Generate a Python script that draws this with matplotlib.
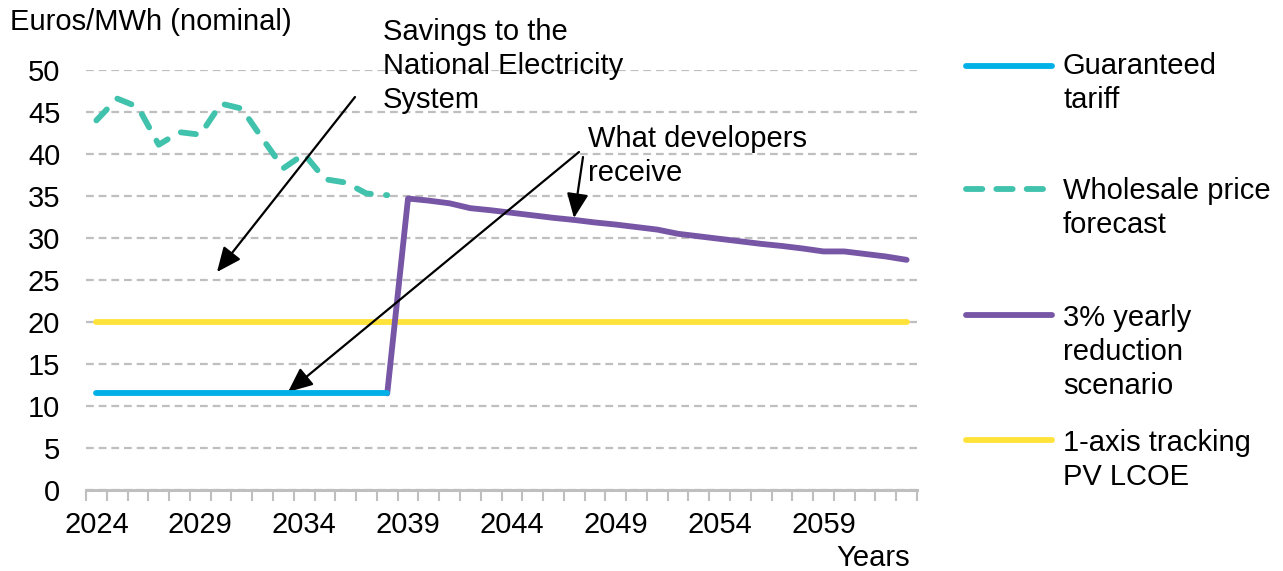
import matplotlib
matplotlib.use("Agg")
import matplotlib.pyplot as plt
from matplotlib.lines import Line2D
import numpy as np

plt.rcParams['font.family'] = ['Liberation Sans', 'DejaVu Sans']

years = list(range(2024, 2064))
guaranteed_years = list(range(2024, 2039))
guaranteed = [11.5] * 15
wholesale_years = list(range(2024, 2039))
wholesale = [44.0, 46.6, 45.6, 41.1, 42.6, 42.3, 46.0, 45.4, 41.8, 38.3, 40.0, 37.0, 36.6, 35.3, 35.1]
reduction_years = list(range(2038, 2064))
reduction = [11.5, 34.7, 34.45, 34.13, 33.55, 33.3, 33.0, 32.7, 32.4, 32.15, 31.85, 31.6, 31.3, 31.0,
             30.5, 30.2, 29.9, 29.6, 29.3, 29.05, 28.75, 28.4, 28.4, 28.1, 27.8, 27.4]
lcoe_years = list(range(2024, 2064))
lcoe = [20.0] * 40

xtick_labels = ['2024', '2029', '2034', '2039', '2044', '2049', '2054', '2059']
yticks = [0, 5, 10, 15, 20, 25, 30, 35, 40, 45, 50]

series_labels = ['Guaranteed\ntariff', 'Wholesale price\nforecast', '3% yearly\nreduction\nscenario',
                 '1-axis tracking\nPV LCOE']
colors = ['#00B0E6', '#40C2AD', '#7756A6', '#FFE33A']

W, H = 1283, 571
fig = plt.figure(figsize=(W / 100, H / 100), dpi=100)
ax = fig.add_axes([86 / W, 1 - 490 / H, (917 - 86) / W, (490 - 70) / H])

def idx(ys):
    return [y - years[0] for y in ys]

FS = 21
LS = 1.27
lw = 4.2
ax.plot(idx(lcoe_years), lcoe, color=colors[3], lw=lw, solid_capstyle='round', zorder=3)
ax.plot(idx(reduction_years), reduction, color=colors[2], lw=lw, solid_capstyle='round',
        solid_joinstyle='round', zorder=3)
ax.plot(idx(guaranteed_years), guaranteed, color=colors[0], lw=lw, solid_capstyle='round', zorder=4)
ax.plot(idx(wholesale_years), wholesale, color=colors[1], lw=lw, dash_capstyle='round',
        linestyle=(0, (2.6, 2.6)), zorder=3)

ax.set_xlim(-0.5, len(years) - 0.5)
ax.set_ylim(0, 50)
ax.set_yticks(yticks)
ax.set_yticklabels([str(v) for v in yticks], fontsize=FS)
ax.yaxis.grid(True, color='#BFBFBF', linestyle=(0, (3.5, 2.2)), lw=1.6)
ax.set_axisbelow(True)
ax.tick_params(axis='y', length=0, pad=18.5)

ax.set_xticks([i for i, y in enumerate(years) if str(y) in xtick_labels])
ax.set_xticklabels(xtick_labels, fontsize=FS)
ax.set_xticks(np.arange(-0.5, len(years) + 0.5, 1), minor=True)
ax.tick_params(axis='x', which='major', length=0, pad=15)
ax.tick_params(axis='x', which='minor', length=8, width=1.5, color='#BFBFBF', direction='out')
for s in ['top', 'right', 'left']:
    ax.spines[s].set_visible(False)
ax.spines['bottom'].set_color('#BFBFBF')
ax.spines['bottom'].set_linewidth(2.2)

def top_of(cap_top):
    return 1 - (cap_top - 3) / H

fig.text(10 / W, 1 - 8 / H, 'Euros/MWh (nominal)', fontsize=FS, ha='left', va='top')
fig.text(910 / W, 1 - 566 / H, 'Years', fontsize=FS, ha='right', va='baseline')

# annotations
def px2data(x, y):
    return ((x - 86) / 20.775 - 0.5, (490 - y) / 8.4)

aprops = dict(arrowstyle='-|>,head_length=0.5,head_width=0.22', mutation_scale=30, lw=1.6,
              color='black', shrinkA=0, shrinkB=0)
ax.annotate('', xy=px2data(217, 272), xytext=px2data(355, 97), arrowprops=aprops, annotation_clip=False)
ax.annotate('', xy=px2data(288, 392), xytext=px2data(579, 152), arrowprops=aprops, annotation_clip=False)
ax.annotate('', xy=px2data(574, 218), xytext=px2data(583, 157), arrowprops=aprops, annotation_clip=False)
fig.text(383 / W, top_of(21), 'Savings to the\nNational Electricity\nSystem', fontsize=FS,
         ha='left', va='top', linespacing=LS)
fig.text(588 / W, top_of(128), 'What developers\nreceive', fontsize=FS,
         ha='left', va='top', linespacing=LS)

# legend
leg_y = [66, 189, 315, 440]
cap_tops = [55, 180, 307, 432]
styles = ['-', (0, (2.8, 2.4)), '-', '-']
ends = [1052, 1043, 1052, 1052]
for lab, c, yy, ct, st, xe in zip(series_labels, colors, leg_y, cap_tops, styles, ends):
    fig.add_artist(Line2D([966 / W, xe / W], [1 - yy / H, 1 - yy / H], color=c, lw=lw,
                          linestyle=st, solid_capstyle='round', dash_capstyle='round'))
    fig.text(1063 / W, top_of(ct), lab, fontsize=FS, ha='left', va='top', linespacing=LS)

fig.savefig('out.png', dpi=100)
